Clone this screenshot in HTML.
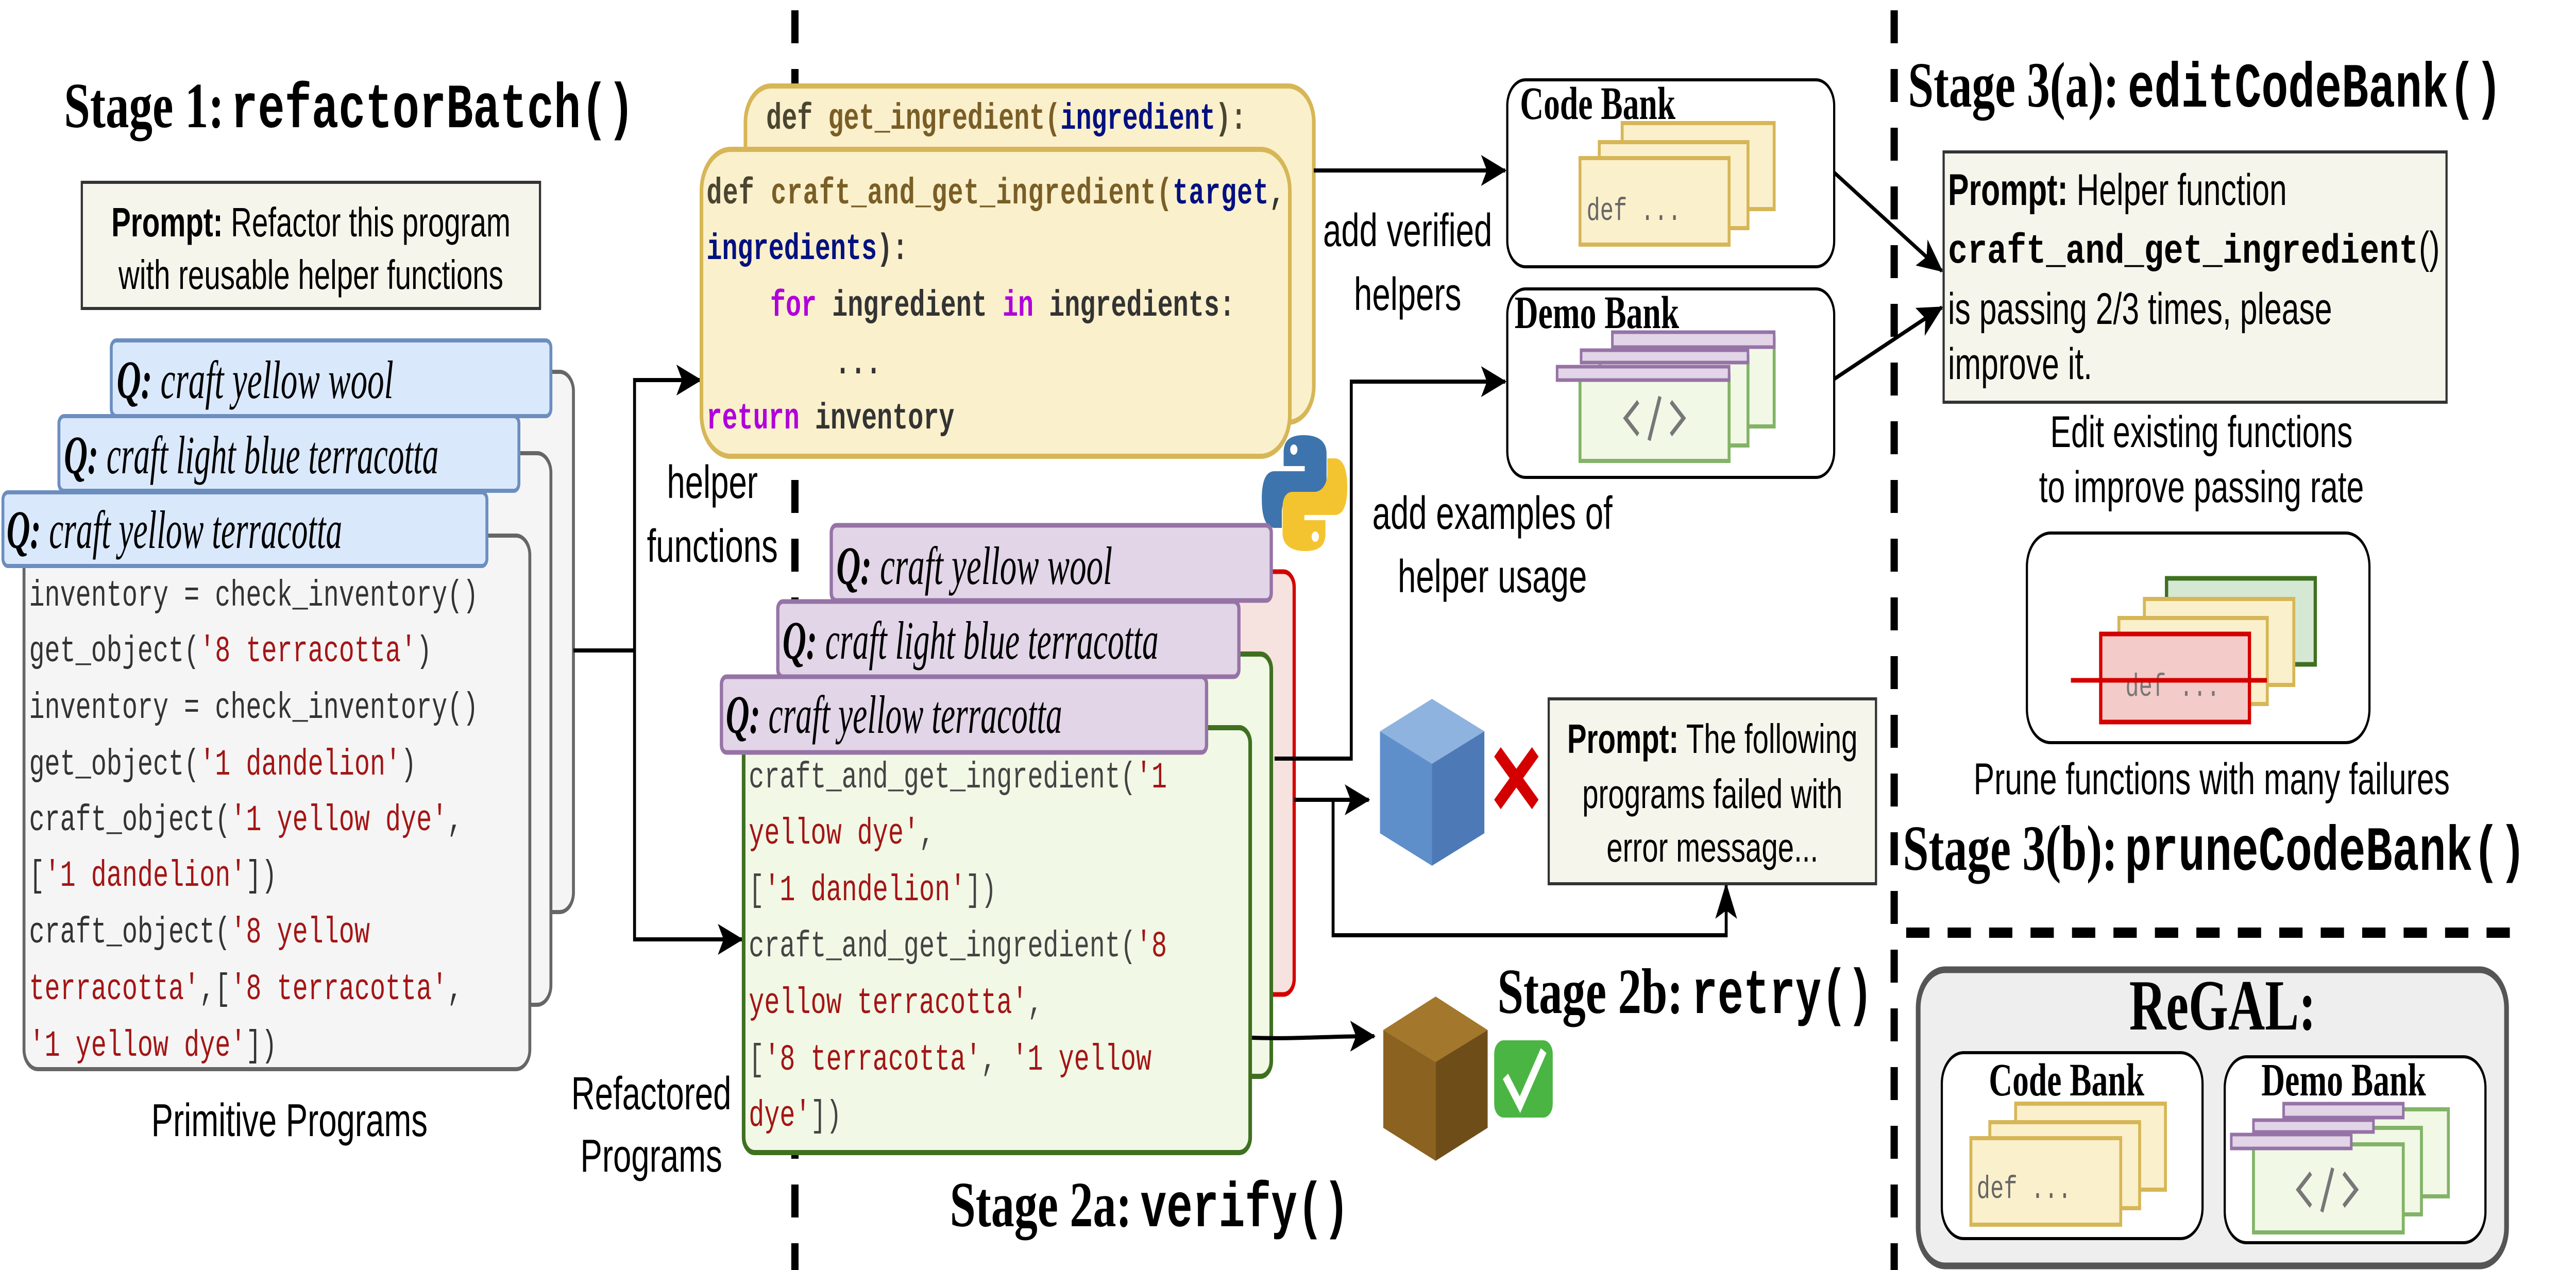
<!DOCTYPE html>
<html><head><meta charset="utf-8"><style>
html,body{margin:0;padding:0;background:#fff;overflow:hidden;width:100%;height:100%;}
svg{display:block;white-space:pre;width:100vw;height:100vh;}
.sans{font-family:"Liberation Sans",sans-serif;}
.serif{font-family:"Liberation Serif",serif;}
.mono{font-family:"Liberation Mono",monospace;}
</style></head><body>
<svg viewBox="0 0 7084 2466" preserveAspectRatio="none" xmlns="http://www.w3.org/2000/svg" xml:space="preserve">
<defs>
<marker id="ah" markerUnits="userSpaceOnUse" markerWidth="70" markerHeight="60" refX="66" refY="30" orient="auto">
<path d="M0,0 L70,30 L0,60 L16,30 Z" fill="#000"/>
</marker>
</defs>

<line x1="2186" y1="20" x2="2186" y2="2466" stroke="#000" stroke-width="20" stroke-dasharray="64,50"/>
<line x1="5209" y1="20" x2="5209" y2="2466" stroke="#000" stroke-width="20" stroke-dasharray="64,50"/>
<line x1="5242" y1="1811" x2="6914" y2="1811" stroke="#000" stroke-width="20" stroke-dasharray="64,50"/>

<text class="serif" x="176" y="247" font-size="125" font-weight="bold" textLength="440" lengthAdjust="spacingAndGlyphs">Stage 1:</text>
<text class="mono" x="635" y="247" font-size="123" font-weight="bold" textLength="1110" lengthAdjust="spacingAndGlyphs">refactorBatch()</text>

<rect x="225" y="354" width="1260" height="245" fill="#f5f5ec" stroke="#333" stroke-width="6"/>
<text class="sans" x="855" y="459" font-size="80" text-anchor="middle"><tspan font-weight="bold">Prompt:</tspan> Refactor this program</text>
<text class="sans" x="855" y="561" font-size="80" text-anchor="middle">with reusable helper functions</text>

<rect x="400" y="722" width="1177" height="1049" rx="38" fill="#f5f5f5" stroke="#666" stroke-width="8"/>
<rect x="250" y="880" width="1265" height="1071" rx="38" fill="#f5f5f5" stroke="#666" stroke-width="8"/>
<rect x="306" y="661" width="1209" height="147" rx="14" fill="#dae8fc" stroke="#6c8ebf" stroke-width="8"/>
<text class="serif" x="321" y="773" font-size="105" font-style="italic" textLength="761" lengthAdjust="spacingAndGlyphs"><tspan font-weight="bold">Q:</tspan> craft yellow  wool</text>
<rect x="66" y="1040" width="1391" height="1036" rx="38" fill="#f5f5f5" stroke="#666" stroke-width="8"/>
<rect x="162" y="808" width="1265" height="145" rx="14" fill="#dae8fc" stroke="#6c8ebf" stroke-width="8"/>
<text class="serif" x="176" y="919" font-size="105" font-style="italic" textLength="1030" lengthAdjust="spacingAndGlyphs"><tspan font-weight="bold">Q:</tspan> craft light blue terracotta</text>
<rect x="8" y="956" width="1331" height="143" rx="14" fill="#dae8fc" stroke="#6c8ebf" stroke-width="8"/>
<text class="serif" x="18" y="1064" font-size="105" font-style="italic" textLength="923" lengthAdjust="spacingAndGlyphs"><tspan font-weight="bold">Q:</tspan> craft yellow terracotta</text>

<g class="mono" font-size="71" fill="#333">
<text x="80" y="1176">inventory = check_inventory()</text>
<text x="80" y="1284">get_object(<tspan fill="#a31515">'8 terracotta'</tspan>)</text>
<text x="80" y="1394">inventory = check_inventory()</text>
<text x="80" y="1504">get_object(<tspan fill="#a31515">'1 dandelion'</tspan>)</text>
<text x="80" y="1612">craft_object(<tspan fill="#a31515">'1 yellow dye'</tspan>,</text>
<text x="80" y="1720">[<tspan fill="#a31515">'1 dandelion'</tspan>])</text>
<text x="80" y="1830">craft_object(<tspan fill="#a31515">'8 yellow</tspan></text>
<text x="80" y="1940"><tspan fill="#a31515">terracotta'</tspan>,[<tspan fill="#a31515">'8 terracotta'</tspan>,</text>
<text x="80" y="2050"><tspan fill="#a31515">'1 yellow dye'</tspan>])</text>
</g>
<text class="sans" x="796" y="2206" font-size="90" text-anchor="middle">Primitive Programs</text>

<path d="M1577,1263 H1745 V738 H1926" fill="none" stroke="#000" stroke-width="8" marker-end="url(#ah)"/>
<path d="M1745,1263 V1824 H2040" fill="none" stroke="#000" stroke-width="8" marker-end="url(#ah)"/>
<text class="sans" x="1959" y="967" font-size="90" text-anchor="middle">helper</text>
<text class="sans" x="1959" y="1091" font-size="90" text-anchor="middle">functions</text>
<text class="sans" x="1791" y="2154" font-size="90" text-anchor="middle">Refactored</text>
<text class="sans" x="1791" y="2275" font-size="90" text-anchor="middle">Programs</text>

<rect x="2050" y="167" width="1563" height="653" rx="70" fill="#fbf0cc" stroke="#d6b656" stroke-width="10"/>
<text class="mono" x="2107" y="250" font-size="71" font-weight="bold"><tspan fill="#4a4530">def </tspan><tspan fill="#795e26">get_ingredient(</tspan><tspan fill="#001080">ingredient</tspan><tspan fill="#4a4530">):</tspan></text>
<rect x="1929" y="290" width="1618" height="596" rx="80" fill="#fbf0cc" stroke="#d6b656" stroke-width="10"/>
<g class="mono" font-size="71" font-weight="bold">
<text x="1943" y="395" textLength="1590" lengthAdjust="spacing"><tspan fill="#4a4530">def  </tspan><tspan fill="#795e26">craft_and_get_ingredient(</tspan><tspan fill="#001080">target</tspan><tspan fill="#333">,</tspan></text>
<text x="1943" y="503"><tspan fill="#001080">ingredients</tspan><tspan fill="#333">):</tspan></text>
<text x="2118" y="613"><tspan fill="#af00db">for</tspan><tspan fill="#333"> ingredient </tspan><tspan fill="#af00db">in</tspan><tspan fill="#333"> ingredients:</tspan></text>
<text x="2296" y="725" fill="#333">...</text>
<text x="1943" y="832"><tspan fill="#af00db">return</tspan><tspan fill="#333"> inventory</tspan></text>
</g>

<g transform="translate(3470,845)">
<path d="M115,0 C70,0 60,15 60,35 V60 H118 V70 H35 C10,70 0,90 0,125 C0,160 12,180 35,180 H55 V150 C55,130 70,115 90,115 H150 C168,115 178,103 178,85 V35 C178,15 160,0 115,0 Z" fill="#3d74ad"/>
<circle cx="88" cy="28" r="10" fill="#fff"/>
<path d="M120,225 C165,225 175,210 175,190 V165 H117 V155 H200 C225,155 235,135 235,100 C235,65 223,45 200,45 H180 V75 C180,95 165,110 145,110 H85 C67,110 57,122 57,140 V190 C57,210 75,225 120,225 Z" fill="#f4c430"/>
<circle cx="147" cy="197" r="10" fill="#fff"/>
</g>

<rect x="2400" y="1110" width="1159" height="821" rx="30" fill="#f6e2df" stroke="#d40000" stroke-width="9"/>
<rect x="2286" y="1020" width="1210" height="146" rx="14" fill="#e1d5e7" stroke="#9673a6" stroke-width="9"/>
<text class="serif" x="2300" y="1134" font-size="105" font-style="italic" textLength="759" lengthAdjust="spacingAndGlyphs"><tspan font-weight="bold">Q:</tspan> craft yellow  wool</text>
<rect x="2250" y="1270" width="1246" height="820" rx="30" fill="#f1f8e6" stroke="#3f7020" stroke-width="10"/>
<rect x="2139" y="1168" width="1268" height="146" rx="14" fill="#e1d5e7" stroke="#9673a6" stroke-width="9"/>
<text class="serif" x="2152" y="1279" font-size="105" font-style="italic" textLength="1034" lengthAdjust="spacingAndGlyphs"><tspan font-weight="bold">Q:</tspan> craft light blue terracotta</text>
<rect x="2045" y="1413" width="1393" height="825" rx="30" fill="#f1f8e6" stroke="#3f7020" stroke-width="10"/>
<rect x="1984" y="1314" width="1334" height="147" rx="14" fill="#e1d5e7" stroke="#9673a6" stroke-width="9"/>
<text class="serif" x="1996" y="1423" font-size="105" font-style="italic" textLength="925" lengthAdjust="spacingAndGlyphs"><tspan font-weight="bold">Q:</tspan> craft yellow terracotta</text>
<g class="mono" font-size="71" fill="#444">
<text x="2059" y="1529">craft_and_get_ingredient(<tspan fill="#a31515">'1</tspan></text>
<text x="2059" y="1638"><tspan fill="#a31515">yellow dye'</tspan>,</text>
<text x="2059" y="1748">[<tspan fill="#a31515">'1 dandelion'</tspan>])</text>
<text x="2059" y="1857">craft_and_get_ingredient(<tspan fill="#a31515">'8</tspan></text>
<text x="2059" y="1967"><tspan fill="#a31515">yellow terracotta'</tspan>,</text>
<text x="2059" y="2077">[<tspan fill="#a31515">'8 terracotta'</tspan>, <tspan fill="#a31515">'1 yellow</tspan></text>
<text x="2059" y="2186"><tspan fill="#a31515">dye'</tspan>])</text>
</g>

<path d="M3613,331 H4139" fill="none" stroke="#000" stroke-width="8" marker-end="url(#ah)"/>
<path d="M3505,1473 H3716 V741 H4139" fill="none" stroke="#000" stroke-width="8" marker-end="url(#ah)"/>
<path d="M3559,1553 H3764" fill="none" stroke="#000" stroke-width="8" marker-end="url(#ah)"/>
<path d="M3666,1553 V1816 H4747 V1718" fill="none" stroke="#000" stroke-width="8" marker-end="url(#ah)"/>
<path d="M3443,2015 C3560,2018 3650,2012 3779,2012" fill="none" stroke="#000" stroke-width="8" marker-end="url(#ah)"/>
<text class="sans" x="3871" y="478" font-size="90" text-anchor="middle">add verified</text>
<text class="sans" x="3871" y="602" font-size="90" text-anchor="middle">helpers</text>
<text class="sans" x="4104" y="1027" font-size="90" text-anchor="middle">add examples of</text>
<text class="sans" x="4104" y="1150" font-size="90" text-anchor="middle">helper usage</text>

<rect x="4145" y="155" width="899" height="363" rx="50" fill="#fff" stroke="#000" stroke-width="6"/>
<text class="serif" x="4180" y="231" font-size="90" font-weight="bold">Code Bank</text>
<rect x="4461" y="239" width="418" height="167" fill="#fbf0cc" stroke="#d6b656" stroke-width="8"/>
<rect x="4398" y="276" width="409" height="167" fill="#fbf0cc" stroke="#d6b656" stroke-width="8"/>
<rect x="4345" y="307" width="410" height="168" fill="#fbf0cc" stroke="#d6b656" stroke-width="8"/>
<text class="mono" x="4363" y="427" font-size="62" fill="#666">def ...</text>

<rect x="4145" y="561" width="899" height="366" rx="50" fill="#fff" stroke="#000" stroke-width="6"/>
<text class="serif" x="4165" y="637" font-size="90" font-weight="bold">Demo Bank</text>
<rect x="4470" y="658" width="409" height="170" fill="#f1f8e6" stroke="#82b366" stroke-width="8"/>
<rect x="4400" y="693" width="407" height="172" fill="#f1f8e6" stroke="#82b366" stroke-width="8"/>
<rect x="4345" y="728" width="410" height="167" fill="#f1f8e6" stroke="#82b366" stroke-width="8"/>
<rect x="4434" y="645" width="445" height="29" fill="#e1d5e7" stroke="#9673a6" stroke-width="7"/>
<rect x="4348" y="680" width="459" height="24" fill="#e1d5e7" stroke="#9673a6" stroke-width="7"/>
<rect x="4282" y="712" width="473" height="26" fill="#e1d5e7" stroke="#9673a6" stroke-width="7"/>
<path d="M4505,780 L4470,812 L4505,844 M4565,770 L4535,855 M4595,780 L4630,812 L4595,844" fill="none" stroke="#777" stroke-width="9"/>

<polygon points="3938,1357 4082,1420 3938,1483 3795,1420" fill="#8fb3df"/>
<polygon points="3795,1420 3938,1483 3938,1681 3795,1618" fill="#5f8fcb"/>
<polygon points="3938,1483 4082,1420 4082,1618 3938,1681" fill="#4d7ab6"/>
<path d="M4118,1460 L4222,1562 M4222,1460 L4118,1562" stroke="#d40000" stroke-width="26"/>

<rect x="4259" y="1357" width="900" height="359" fill="#f5f5ec" stroke="#333" stroke-width="6"/>
<text class="sans" x="4709" y="1462" font-size="80" text-anchor="middle"><tspan font-weight="bold">Prompt:</tspan> The following</text>
<text class="sans" x="4709" y="1569" font-size="80" text-anchor="middle">programs failed with</text>
<text class="sans" x="4709" y="1673" font-size="80" text-anchor="middle">error message...</text>

<polygon points="3948,1935 4091,2000 3948,2062 3804,2000" fill="#a3772c"/>
<polygon points="3804,2000 3948,2062 3948,2254 3804,2190" fill="#8c6220"/>
<polygon points="3948,2062 4091,2000 4091,2190 3948,2254" fill="#6f4d18"/>
<rect x="4109" y="2020" width="161" height="150" rx="26" fill="#4bb543"/>
<path d="M4140,2090 L4180,2145 L4245,2040" fill="none" stroke="#fff" stroke-width="18"/>

<text class="serif" x="4118" y="1967" font-size="125" font-weight="bold" textLength="510" lengthAdjust="spacingAndGlyphs">Stage 2b:</text>
<text class="mono" x="4652" y="1967" font-size="123" font-weight="bold" textLength="499" lengthAdjust="spacingAndGlyphs">retry()</text>
<text class="serif" x="2612" y="2381" font-size="125" font-weight="bold" textLength="500" lengthAdjust="spacingAndGlyphs">Stage 2a:</text>
<text class="mono" x="3136" y="2381" font-size="123" font-weight="bold" textLength="575" lengthAdjust="spacingAndGlyphs">verify()</text>

<path d="M5044,335 L5340,526" fill="none" stroke="#000" stroke-width="8" marker-end="url(#ah)"/>
<path d="M5044,736 L5340,597" fill="none" stroke="#000" stroke-width="8" marker-end="url(#ah)"/>
<text class="serif" x="5247" y="207" font-size="125" font-weight="bold" textLength="580" lengthAdjust="spacingAndGlyphs">Stage 3(a):</text>
<text class="mono" x="5851" y="207" font-size="123" font-weight="bold" textLength="1030" lengthAdjust="spacingAndGlyphs">editCodeBank()</text>
<rect x="5345" y="295" width="1383" height="486" fill="#f5f5ec" stroke="#333" stroke-width="6"/>
<text class="sans" x="5357" y="398" font-size="86"><tspan font-weight="bold">Prompt:</tspan>  Helper function</text>
<text class="mono" x="5357" y="510" font-size="80" font-weight="bold" textLength="1294" lengthAdjust="spacingAndGlyphs">craft_and_get_ingredient</text>
<text class="sans" x="6652" y="510" font-size="86">()</text>
<text class="sans" x="5357" y="629" font-size="86">is passing 2/3 times, please</text>
<text class="sans" x="5357" y="736" font-size="86">improve it.</text>
<text class="sans" x="6054" y="868" font-size="86" text-anchor="middle">Edit existing functions</text>
<text class="sans" x="6054" y="975" font-size="86" text-anchor="middle">to improve passing rate</text>

<rect x="5574" y="1035" width="942" height="407" rx="65" fill="#fff" stroke="#000" stroke-width="6"/>
<rect x="5958" y="1123" width="409" height="167" fill="#d5e8d4" stroke="#3f7020" stroke-width="9"/>
<rect x="5897" y="1163" width="411" height="167" fill="#fbf0cc" stroke="#d6b656" stroke-width="8"/>
<rect x="5827" y="1200" width="408" height="167" fill="#fbf0cc" stroke="#d6b656" stroke-width="8"/>
<rect x="5777" y="1231" width="409" height="171" fill="#f3cbc9" stroke="#d40000" stroke-width="9"/>
<text class="mono" x="5975" y="1351" font-size="62" fill="#777" text-anchor="middle">def ...</text>
<line x1="5695" y1="1321" x2="6234" y2="1321" stroke="#d40000" stroke-width="9"/>
<text class="sans" x="6082" y="1542" font-size="86" text-anchor="middle">Prune functions with many failures</text>
<text class="serif" x="5233" y="1689" font-size="125" font-weight="bold" textLength="590" lengthAdjust="spacingAndGlyphs">Stage 3(b):</text>
<text class="mono" x="5843" y="1689" font-size="123" font-weight="bold" textLength="1104" lengthAdjust="spacingAndGlyphs">pruneCodeBank()</text>

<rect x="5275" y="1883" width="1618" height="575" rx="74" fill="#eeeeee" stroke="#555" stroke-width="13"/>
<text class="serif" x="6112" y="1999" font-size="140" font-weight="bold" text-anchor="middle">ReGAL:</text>
<rect x="5340" y="2044" width="717" height="361" rx="60" fill="#fff" stroke="#000" stroke-width="6"/>
<text class="serif" x="5683" y="2127" font-size="90" font-weight="bold" text-anchor="middle">Code Bank</text>
<rect x="5543" y="2143" width="412" height="167" fill="#fbf0cc" stroke="#d6b656" stroke-width="8"/>
<rect x="5472" y="2179" width="412" height="167" fill="#fbf0cc" stroke="#d6b656" stroke-width="8"/>
<rect x="5420" y="2210" width="412" height="168" fill="#fbf0cc" stroke="#d6b656" stroke-width="8"/>
<text class="mono" x="5436" y="2326" font-size="62" fill="#666">def ...</text>
<rect x="6118" y="2052" width="717" height="361" rx="60" fill="#fff" stroke="#000" stroke-width="6"/>
<text class="serif" x="6445" y="2127" font-size="90" font-weight="bold" text-anchor="middle">Demo Bank</text>
<rect x="6320" y="2154" width="413" height="169" fill="#f1f8e6" stroke="#82b366" stroke-width="8"/>
<rect x="6260" y="2190" width="399" height="168" fill="#f1f8e6" stroke="#82b366" stroke-width="8"/>
<rect x="6197" y="2222" width="412" height="171" fill="#f1f8e6" stroke="#82b366" stroke-width="8"/>
<rect x="6280" y="2143" width="329" height="27" fill="#e1d5e7" stroke="#9673a6" stroke-width="7"/>
<rect x="6197" y="2175" width="330" height="23" fill="#e1d5e7" stroke="#9673a6" stroke-width="7"/>
<rect x="6136" y="2203" width="330" height="27" fill="#e1d5e7" stroke="#9673a6" stroke-width="7"/>
<path d="M6355,2278 L6320,2310 L6355,2342 M6415,2268 L6385,2353 M6445,2278 L6480,2310 L6445,2342" fill="none" stroke="#777" stroke-width="9"/>
</svg>
</body></html>
